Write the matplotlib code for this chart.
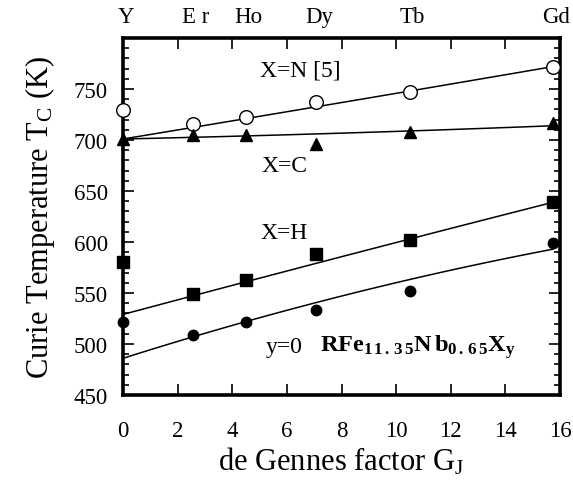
#! /usr/bin/env python3
import numpy
import matplotlib
matplotlib.use("Agg")
import matplotlib.pyplot as plt
from matplotlib.ticker import MultipleLocator
from matplotlib.transforms import blended_transform_factory

# de Gennes factor of each rare earth
elements = ["Y", "E r", "Ho", "Dy", "Tb", "Gd"]
gj = [0.0, 2.55, 4.5, 7.08, 10.5, 15.75]

# Curie temperatures (K)
tc_n = [729, 716, 723, 737, 747, 772]
tc_c = [701, 705, 705, 696, 708, 717]
tc_h = [580, 549, 563, 588, 602, 639]
tc_0 = [522, 509, 522, 533, 552, 599]

# guide curves, sampled at the knots below
fit_g = [0.0, 4.5, 15.75]
fit_n = [701, 721, 772]
fit_c = [701, 704, 714]
fit_h = [529, 561, 639]
fit_0 = [486, 522, 593]

plt.rcParams["font.family"] = ["Liberation Serif", "DejaVu Serif"]
plt.rcParams["mathtext.fontset"] = "custom"
plt.rcParams["mathtext.rm"] = "Liberation Serif"
plt.rcParams["mathtext.it"] = "Liberation Serif"
plt.rcParams["mathtext.bf"] = "Liberation Serif:bold"

fig = plt.figure(figsize=(5.73, 4.81), dpi=100)
ax = fig.add_axes([0.2147, 0.1767, 0.7626, 0.7422])

g = numpy.linspace(0.0, 15.75, 100)
for knots in (fit_n, fit_c, fit_h, fit_0):
    p = numpy.polyfit(fit_g, knots, 2)
    ax.plot(g, numpy.polyval(p, g), "k-", lw=1.1)

kw = dict(ls="none", clip_on=False, zorder=3)
ax.plot(gj, tc_n, "o", ms=9.8, mfc="white", mec="k", mew=1.0, **kw)
ax.plot(gj, tc_c, "^", ms=8.5, color="k", **kw)
ax.plot(gj, tc_h, "s", ms=8.5, color="k", **kw)
ax.plot(gj, tc_0, "o", ms=7.5, color="k", **kw)

ax.set_xlim(0, 16)
ax.set_ylim(450, 800)
ax.xaxis.set_major_locator(MultipleLocator(2))
ax.yaxis.set_minor_locator(MultipleLocator(10))
ax.set_yticks(numpy.arange(450, 751, 50))
ax.tick_params(which="both", direction="in", top=True, right=True,
               labelsize=16.5, width=1.2)
ax.tick_params(which="major", length=8)
ax.tick_params(which="minor", length=4)
ax.tick_params(axis="x", which="major", pad=18)
ax.tick_params(axis="y", which="major", pad=11)
for s in ax.spines.values():
    s.set_linewidth(2.6)

ax.set_xlabel(r"de Gennes factor G$_\mathregular{J}$", fontsize=22, labelpad=3)
ax.set_ylabel(r"Curie Temperature T$_\mathregular{C}$ (K)", fontsize=22,
              labelpad=12)

trans = blended_transform_factory(ax.transData, ax.transAxes)
for name, x in zip(elements, gj):
    ax.text(x + 0.1, 1.03, name, transform=trans, ha="center", va="bottom",
            fontsize=16.5, clip_on=False)

ax.text(6.5, 769, "X=N [5]", fontsize=17, ha="center", va="center")
ax.text(5.9, 675, "X=C", fontsize=17, ha="center", va="center")
ax.text(5.9, 609, "X=H", fontsize=17, ha="center", va="center")
ax.text(5.9, 498, "y=0", fontsize=17, ha="center", va="center")
ax.text(7.2, 498,
        r"$\mathbf{RFe_{1\,1\,.\,3\,5}N\,b_{0\,.\,6\,5}X_y}$",
        fontsize=17.5, ha="left", va="center")

fig.savefig("out.png", dpi=100)
